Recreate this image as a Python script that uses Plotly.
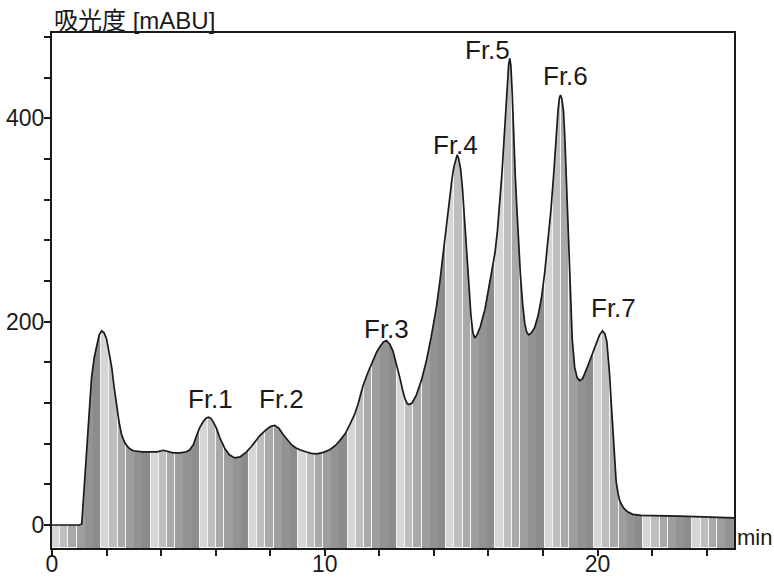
import plotly.graph_objects as go

# Chromatogram trace: retention time [min] and absorbance [mABU]
time_min = [
    0.0, 0.5, 1.0, 1.09, 1.15, 1.21, 1.27, 1.33, 1.39, 1.45, 1.55, 1.64, 1.73,
    1.82, 1.91, 2.0, 2.1, 2.19, 2.28, 2.37, 2.46, 2.55, 2.65, 2.74, 2.85, 2.98,
    3.3, 3.59, 3.85, 4.08, 4.25, 4.44, 4.7, 4.93, 5.05, 5.18, 5.3, 5.42, 5.55,
    5.65, 5.73, 5.82, 5.92, 6.03, 6.15, 6.25, 6.34, 6.5, 6.7, 6.89, 7.0, 7.13,
    7.3, 7.5, 7.62, 7.86, 8.02, 8.17, 8.32, 8.47, 8.62, 8.78, 8.93, 9.08, 9.3,
    9.5, 9.7, 9.95, 10.18, 10.38, 10.55, 10.75, 10.92, 11.08, 11.22, 11.4,
    11.58, 11.77, 11.9, 12.01, 12.15, 12.26, 12.38, 12.5, 12.62, 12.75, 12.85,
    12.93, 13.02, 13.09, 13.2, 13.36, 13.55, 13.72, 13.9, 14.09, 14.22, 14.33,
    14.46, 14.58, 14.66, 14.73, 14.8, 14.85, 14.9, 14.98, 15.05, 15.13, 15.21,
    15.29, 15.36, 15.43, 15.5, 15.58, 15.7, 15.87, 16.04, 16.15, 16.24, 16.33,
    16.42, 16.5, 16.57, 16.63, 16.69, 16.74, 16.78, 16.82, 16.87, 16.92, 16.98,
    17.04, 17.1, 17.17, 17.25, 17.33, 17.4, 17.47, 17.57, 17.69, 17.82, 17.94,
    18.06, 18.18, 18.29, 18.39, 18.47, 18.55, 18.6, 18.64, 18.69, 18.75, 18.8,
    18.85, 18.9, 18.95, 19.01, 19.07, 19.16, 19.25, 19.34, 19.45, 19.59, 19.72,
    19.83, 19.95, 20.07, 20.18, 20.27, 20.34, 20.4, 20.44, 20.5, 20.56, 20.62,
    20.68, 20.75, 20.81, 20.9, 20.99, 21.1, 21.29, 21.6, 22.03, 22.5, 23.0,
    23.6, 24.22, 25.0,
]
absorbance = [
    0, 0, 0, 1, 25, 56, 82, 105, 127, 145, 165, 178, 187,
    191, 189, 183, 170, 155, 135, 116, 101, 89, 82, 78, 75, 73,
    72, 72, 72, 73.5, 72.5, 71, 71, 72, 74, 79, 88, 96, 102,
    105, 106, 105, 101, 95, 86, 80, 75, 69, 66, 67, 69, 72,
    77, 84, 88, 94, 97, 98, 95, 89, 84, 79, 76, 74, 72,
    70.5, 70, 71.5, 74, 78, 83, 90, 99, 108, 119, 137,
    150, 162, 170, 175, 180, 181.5, 178, 171, 159, 145, 133,
    125, 119.5, 118.5, 120, 128, 143, 161, 185, 214, 240, 266,
    295, 322, 340, 352, 361, 364, 361, 350, 330, 300, 265,
    230, 205, 189, 184, 187, 195, 212, 236, 252, 268, 290,
    318, 348, 379, 410, 436, 453, 459, 452, 425, 380, 345,
    312, 278, 246, 218, 198, 190, 187, 189, 194, 206, 223,
    248, 279, 310, 345, 378, 408, 420, 423, 419, 407, 380,
    345, 305, 263, 218, 183, 155, 145, 142, 144, 153, 162,
    171, 180, 187, 191, 188, 180, 163, 148, 120, 92, 65,
    43, 31, 24, 19, 15.5, 13, 10.5, 9.5, 9, 9, 8.8,
    8.3, 8, 7,
]

# Fraction labels and their anchor points
fraction_names = ["Fr.1", "Fr.2", "Fr.3", "Fr.4", "Fr.5", "Fr.6", "Fr.7"]
fraction_label_x = [5.80, 8.40, 12.27, 14.80, 15.98, 18.84, 20.57]
fraction_label_y = [124, 124, 193, 374, 467, 442, 213]

# Fraction collector tubes: fixed-width cuts, cycling through six rack shades
tube_width_min = 0.301
rack_shades = ["#d5d6d6", "#bdbec0", "#a7a9ab", "#9c9ea0", "#919395", "#8a8c8e"]
rack_edge_widths = [1.0, 1.0, 1.0, 0, 0, 0]

x_tick_vals = list(range(0, 25, 2))
x_tick_text = ["0" if v == 0 else ("10" if v == 10 else ("20" if v == 20 else "")) for v in x_tick_vals]
y_tick_vals = list(range(0, 481, 40))
y_tick_text = [str(v) if v in (0, 200, 400) else "" for v in y_tick_vals]

x_range = [0, 25.0]
y_range = [-22.6, 483.9]

FONT = "Liberation Sans, Arial, Noto Sans CJK JP, sans-serif"
INK = "#1a1a1a"

# Tube stripes spanning the full plot height
n_tubes = int(round((x_range[1] - x_range[0]) / tube_width_min)) + 1
tube_centers, tube_colors, tube_edges = [], [], []
for i in range(n_tubes):
    start = x_range[0] + i * tube_width_min
    if start >= x_range[1]:
        break
    tube_centers.append(start + tube_width_min / 2)
    tube_colors.append(rack_shades[i % len(rack_shades)])
    tube_edges.append(rack_edge_widths[i % len(rack_edge_widths)])

fig = go.Figure()
fig.add_trace(go.Bar(
    x=tube_centers,
    y=[y_range[1] - y_range[0]] * len(tube_centers),
    base=y_range[0],
    width=tube_width_min,
    marker=dict(color=tube_colors, line=dict(color="#f4f4f4", width=tube_edges)),
    hoverinfo="skip",
    showlegend=False,
))

# White mask above the trace so stripes only show underneath it
pad = 1.0
mask_x = [x_range[0] - pad] + time_min + [x_range[1] + pad, x_range[1] + pad, x_range[0] - pad]
mask_y = [absorbance[0]] + absorbance + [absorbance[-1], y_range[1] + 200, y_range[1] + 200]
fig.add_trace(go.Scatter(
    x=mask_x, y=mask_y, mode="lines", fill="toself",
    fillcolor="white", line=dict(width=0), hoverinfo="skip", showlegend=False,
))

# Absorbance trace
fig.add_trace(go.Scatter(
    x=time_min, y=absorbance, mode="lines",
    line=dict(color=INK, width=1.7), showlegend=False,
))

annotations = []
for name, lx, ly in zip(fraction_names, fraction_label_x, fraction_label_y):
    annotations.append(dict(
        x=lx, y=ly, xref="x", yref="y", text=name, showarrow=False,
        xanchor="center", yanchor="middle",
        font=dict(family=FONT, size=26, color=INK),
    ))
annotations.append(dict(
    x=0, y=1, xref="paper", yref="paper", text="吸光度 [mABU]", showarrow=False,
    xanchor="left", yanchor="bottom", yshift=-3,
    font=dict(family=FONT, size=24, color=INK),
))
annotations.append(dict(
    x=1, y=0, xref="paper", yref="paper", text="min", showarrow=False,
    xanchor="left", yanchor="middle", xshift=1, yshift=11,
    font=dict(family=FONT, size=22, color=INK),
))

fig.update_layout(
    width=774, height=578,
    margin=dict(l=52, r=40, t=33, b=30, autoexpand=False),
    paper_bgcolor="white", plot_bgcolor="white",
    bargap=0,
    annotations=annotations,
    font=dict(family=FONT, size=23, color=INK),
)
axis_style = dict(
    ticks="outside", ticklen=6, tickwidth=1.5, tickcolor=INK,
    showline=True, linecolor=INK, linewidth=2, mirror=True,
    showgrid=False, zeroline=False, automargin=False,
    tickfont=dict(family=FONT, size=23, color=INK),
)
fig.update_xaxes(range=x_range, tickvals=x_tick_vals, ticktext=x_tick_text,
                 ticklabelstandoff=-12, **axis_style)
fig.update_yaxes(range=y_range, tickvals=y_tick_vals, ticktext=y_tick_text,
                 ticklabelstandoff=-5, **axis_style)

fig.write_html("out.html")
